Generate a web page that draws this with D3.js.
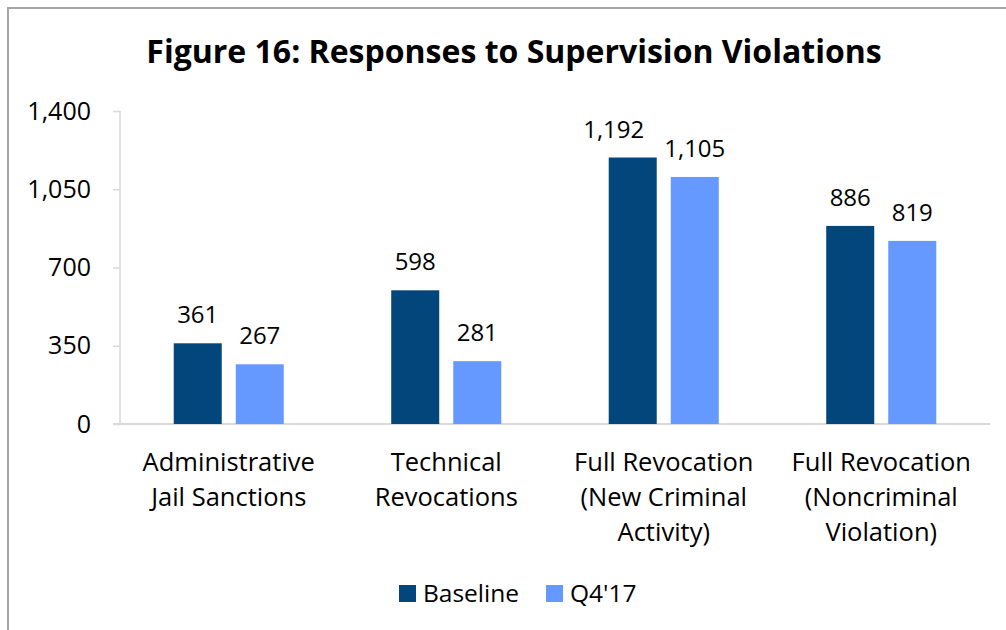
<!DOCTYPE html>
<html lang="en">
<head>
  <meta charset="UTF-8" />
  <title>Figure 16: Responses to Supervision Violations</title>
  <script src="https://d3js.org/d3.v7.min.js"></script>
  <style>
    body { margin: 0; background: #fff; font-family: "Open Sans", sans-serif; }
    svg text { fill: #000; }
  </style>
</head>
<body>
  <svg width="1006" height="630"></svg>
  <script>
    // chart data
    const categories = [
      ["Administrative", "Jail Sanctions"],
      ["Technical", "Revocations"],
      ["Full Revocation", "(New Criminal", "Activity)"],
      ["Full Revocation", "(Noncriminal", "Violation)"]
    ];
    const seriesNames = ["Baseline", "Q4'17"];
    const baseline = [361, 598, 1192, 886];
    const q417 = [267, 281, 1105, 819];
    const yTicks = [0, 350, 700, 1050, 1400];
    const colors = ["#02467c", "#6699ff"];

    const svg = d3.select("svg");
    const plot = { left: 120, right: 990, top: 111, bottom: 424 };

    // chart frame (right / bottom edges fall outside the picture)
    svg.append("rect")
      .attr("x", 8).attr("y", 8)
      .attr("width", 1010).attr("height", 640)
      .attr("fill", "none")
      .attr("stroke", "#a6a6a6")
      .attr("stroke-width", 2);

    // title
    svg.append("text")
      .attr("x", 514).attr("y", 63)
      .attr("text-anchor", "middle")
      .style("font-size", "32px")
      .style("font-weight", "bold")
      .text("Figure 16: Responses to Supervision Violations");

    const x0 = d3.scaleBand()
      .domain(d3.range(categories.length))
      .range([plot.left, plot.right])
      .paddingInner(0.494)
      .paddingOuter(0.247);

    const x1 = d3.scaleBand()
      .domain(seriesNames)
      .range([0, x0.bandwidth()])
      .paddingInner(0.226);

    const y = d3.scaleLinear()
      .domain([0, 1400])
      .range([plot.bottom, plot.top]);

    // y axis
    const yAxis = svg.append("g")
      .attr("transform", `translate(${plot.left},0)`)
      .call(d3.axisLeft(y).tickValues(yTicks).tickSize(7).tickPadding(22)
        .tickFormat(d3.format(",")));
    yAxis.selectAll("line, path").attr("stroke", "#d9d9d9").attr("stroke-width", 1.5);
    yAxis.select(".domain").attr("d", `M0,${plot.top}V${plot.bottom}`);
    yAxis.selectAll("text")
      .attr("fill", "#000")
      .style("font-family", "'Open Sans', sans-serif")
      .style("font-size", "25px");

    // baseline (x axis)
    svg.append("line")
      .attr("x1", plot.left - 7).attr("x2", plot.right)
      .attr("y1", y(0)).attr("y2", y(0))
      .attr("stroke", "#d9d9d9").attr("stroke-width", 2);

    const rows = categories.map((c, i) => ({
      i,
      values: [
        { name: seriesNames[0], v: baseline[i], i },
        { name: seriesNames[1], v: q417[i], i }
      ]
    }));

    const groups = svg.selectAll(".grp")
      .data(rows)
      .enter().append("g")
      .attr("class", "grp")
      .attr("transform", d => `translate(${x0(d.i)},0)`);

    groups.selectAll("rect")
      .data(d => d.values)
      .enter().append("rect")
      .attr("x", d => x1(d.name))
      .attr("y", d => y(d.v))
      .attr("width", x1.bandwidth())
      .attr("height", d => y(0) - y(d.v))
      .attr("fill", (d, j) => colors[j]);

    // the 1,192 label is pushed left so it clears its neighbour
    const labelNudge = (d, j) => (d.i === 2 && j === 0 ? -19 : 0);

    groups.selectAll(".lbl")
      .data(d => d.values)
      .enter().append("text")
      .attr("class", "lbl")
      .attr("x", (d, j) => x1(d.name) + x1.bandwidth() / 2 + labelNudge(d, j))
      .attr("y", d => y(d.v) - 20)
      .attr("text-anchor", "middle")
      .style("font-size", "24px")
      .text(d => d3.format(",")(d.v));

    // category labels
    svg.selectAll(".cat")
      .data(categories)
      .enter().append("text")
      .attr("class", "cat")
      .attr("text-anchor", "middle")
      .style("font-size", "25.5px")
      .each(function(lines, i) {
        d3.select(this).selectAll("tspan")
          .data(lines)
          .enter().append("tspan")
          .attr("x", x0(i) + x0.bandwidth() / 2)
          .attr("y", (l, k) => 471 + k * 35)
          .text(l => l);
      });

    // legend
    const legend = svg.append("g").attr("transform", "translate(399,585)");
    const legendX = [0, 147];
    seriesNames.forEach((name, j) => {
      const g = legend.append("g").attr("transform", `translate(${legendX[j]},0)`);
      g.append("rect").attr("width", 17).attr("height", 17).attr("fill", colors[j]);
      g.append("text").attr("x", 24).attr("y", 16.5)
        .style("font-size", "24.5px")
        .text(name);
    });
  </script>
</body>
</html>
